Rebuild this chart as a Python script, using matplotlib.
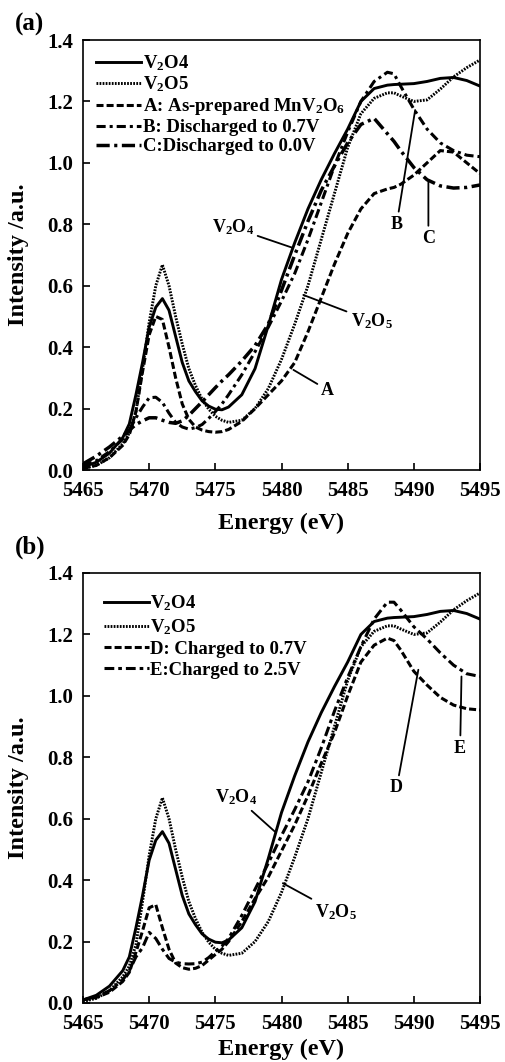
import matplotlib
matplotlib.use("Agg")
import matplotlib.pyplot as plt
from matplotlib.ticker import FormatStrFormatter, MultipleLocator

plt.rcParams["font.family"] = ["Liberation Serif", "DejaVu Serif"]
plt.rcParams["font.weight"] = "bold"
plt.rcParams["mathtext.fontset"] = "custom"
plt.rcParams["mathtext.rm"] = "Liberation Serif:bold"
plt.rcParams["mathtext.it"] = "Liberation Serif:bold"
plt.rcParams["mathtext.bf"] = "Liberation Serif:bold"
plt.rcParams["mathtext.default"] = "rm"

# shared energy grid (eV)
energy = [5465, 5466, 5467, 5468, 5468.5, 5469, 5469.5, 5470, 5470.5, 5471,
          5471.5, 5472, 5472.5, 5473, 5473.5, 5474, 5474.5, 5475, 5475.5, 5476,
          5477, 5478, 5479, 5480, 5481, 5482, 5483, 5484, 5485, 5486,
          5487, 5488, 5488.5, 5489, 5490, 5491, 5492, 5493, 5494, 5495]

v2o4 = [0.01, 0.025, 0.055, 0.105, 0.15, 0.245, 0.35, 0.465, 0.53, 0.558,
        0.52, 0.435, 0.35, 0.29, 0.255, 0.225, 0.208, 0.198, 0.196, 0.205,
        0.245, 0.33, 0.47, 0.62, 0.74, 0.85, 0.945, 1.03, 1.11, 1.2,
        1.242, 1.253, 1.255, 1.256, 1.258, 1.265, 1.275, 1.278, 1.268, 1.25]

v2o5 = [0.005, 0.015, 0.04, 0.085, 0.12, 0.19, 0.33, 0.48, 0.6, 0.668,
        0.6, 0.5, 0.41, 0.33, 0.275, 0.23, 0.198, 0.175, 0.162, 0.155,
        0.162, 0.2, 0.265, 0.36, 0.475, 0.6, 0.75, 0.9, 1.05, 1.16,
        1.21, 1.228, 1.228, 1.218, 1.2, 1.205, 1.24, 1.28, 1.31, 1.335]

# (a) as-prepared / discharged
curve_a = [0.005, 0.015, 0.04, 0.08, 0.115, 0.19, 0.32, 0.44, 0.5, 0.49,
           0.4, 0.3, 0.215, 0.165, 0.14, 0.13, 0.125, 0.123, 0.125, 0.132,
           0.158, 0.2, 0.245, 0.29, 0.35, 0.45, 0.56, 0.67, 0.77, 0.85,
           0.9, 0.915, 0.92, 0.93, 0.96, 1.0, 1.04, 1.035, 1.0, 0.965]

curve_b = [0.015, 0.03, 0.06, 0.1, 0.13, 0.17, 0.205, 0.235, 0.237, 0.22,
           0.185, 0.155, 0.14, 0.133, 0.138, 0.148, 0.168, 0.19, 0.215, 0.245,
           0.31, 0.385, 0.465, 0.55, 0.64, 0.75, 0.87, 0.99, 1.1, 1.2,
           1.265, 1.295, 1.29, 1.25, 1.175, 1.11, 1.065, 1.04, 1.025, 1.02]

curve_c = [0.02, 0.045, 0.075, 0.11, 0.13, 0.148, 0.16, 0.17, 0.17, 0.162,
           0.155, 0.152, 0.16, 0.178, 0.2, 0.222, 0.245, 0.268, 0.29, 0.31,
           0.355, 0.405, 0.475, 0.585, 0.7, 0.81, 0.91, 0.99, 1.065, 1.125,
           1.145, 1.095, 1.07, 1.04, 0.985, 0.945, 0.925, 0.918, 0.92, 0.928]

# (b) charged
curve_d = [0.01, 0.018, 0.035, 0.07, 0.1, 0.165, 0.235, 0.31, 0.32, 0.245,
           0.175, 0.13, 0.115, 0.11, 0.113, 0.122, 0.14, 0.158, 0.175, 0.2,
           0.265, 0.34, 0.41, 0.495, 0.58, 0.675, 0.78, 0.88, 1.0, 1.11,
           1.165, 1.188, 1.18, 1.15, 1.08, 1.035, 0.995, 0.97, 0.958, 0.954]

curve_e = [0.01, 0.02, 0.04, 0.075, 0.105, 0.15, 0.18, 0.23, 0.21, 0.175,
           0.145, 0.133, 0.128, 0.127, 0.128, 0.133, 0.148, 0.168, 0.185, 0.21,
           0.285, 0.37, 0.455, 0.545, 0.63, 0.72, 0.83, 0.95, 1.06, 1.16,
           1.25, 1.305, 1.305, 1.28, 1.225, 1.185, 1.14, 1.1, 1.072, 1.063]

ref_labels = ["V$_2$O4", "V$_2$O5"]
labels_a = ["A: As-prepared MnV$_2$O$_6$", "B: Discharged to 0.7V", "C:Discharged to 0.0V"]
labels_b = ["D: Charged to 0.7V", "E:Charged to 2.5V"]

solid = dict(color="k", lw=2.1, ls="-")
dotted = dict(color="k", lw=2.1, ls=(0, (0.6, 0.45)))
dashed = dict(color="k", lw=2.2, ls=(0, (2.3, 1.0)))
dashdot_b = dict(color="k", lw=2.2, ls=(0, (3.0, 1.3, 1.0, 1.3)))
dashdot_c = dict(color="k", lw=2.5, ls=(0, (3.8, 1.3, 0.9, 1.3)))
dashdot_e = dict(color="k", lw=2.2, ls=(0, (3.2, 1.3, 1.2, 1.3)))


def style_axes(ax, xlab_y):
    ax.set_xlim(5465, 5495)
    ax.set_ylim(0, 1.4)
    ax.xaxis.set_major_locator(MultipleLocator(5))
    ax.yaxis.set_major_locator(MultipleLocator(0.2))
    ax.yaxis.set_major_formatter(FormatStrFormatter("%.1f"))
    ax.tick_params(direction="in", length=5, width=1.2, labelsize=15)
    ax.tick_params(axis="x", pad=8)
    ax.tick_params(axis="y", pad=7)
    for s in ax.spines.values():
        s.set_linewidth(1.2)
    ax.set_xlabel("Energy (eV)", fontsize=17.5, fontweight="bold")
    ax.set_ylabel("Intensity /a.u.", fontsize=17.5, fontweight="bold")
    ax.xaxis.set_label_coords(0.5, xlab_y)
    ax.yaxis.set_label_coords(-0.135, 0.5)


def note(ax, text, xy, xytext):
    ax.annotate(text, xy=xy, xytext=xytext, fontsize=13, fontweight="bold",
                ha="center", va="center",
                arrowprops=dict(arrowstyle="-", color="k", lw=1.3,
                                shrinkA=1, shrinkB=0))


fig = plt.figure(figsize=(5.06, 10.62), dpi=100)
ax1 = fig.add_axes([83 / 506, 1 - 470 / 1062, 397 / 506, 430 / 1062])
ax2 = fig.add_axes([83 / 506, 1 - 1003 / 1062, 397 / 506, 430 / 1062])

# panel (a)
ax1.plot(energy, v2o4, label=ref_labels[0], **solid)
ax1.plot(energy, v2o5, label=ref_labels[1], **dotted)
ax1.plot(energy, curve_a, label=labels_a[0], **dashed)
ax1.plot(energy, curve_b, label=labels_a[1], **dashdot_b)
ax1.plot(energy, curve_c, label=labels_a[2], **dashdot_c)
style_axes(ax1, -0.1)
ax1.legend(loc="upper left", frameon=False, fontsize=13.5, handlelength=2.4,
           handletextpad=0.1, labelspacing=0.1, borderpad=0.5,
           borderaxespad=0.2)
note(ax1, "V$_2$O$_4$", (5480.87, 0.723), (5476.3, 0.79))
note(ax1, "V$_2$O$_5$", (5481.65, 0.57), (5486.8, 0.485))
note(ax1, "A", (5480.9, 0.326), (5483.5, 0.26))
note(ax1, "B", (5490.1, 1.172), (5488.7, 0.80))
note(ax1, "C", (5491.1, 0.939), (5491.1, 0.754))

# panel (b)
ax2.plot(energy, v2o4, label=ref_labels[0], **solid)
ax2.plot(energy, v2o5, label=ref_labels[1], **dotted)
ax2.plot(energy, curve_d, label=labels_b[0], **dashed)
ax2.plot(energy, curve_e, label=labels_b[1], **dashdot_e)
style_axes(ax2, -0.083)
ax2.legend(loc="upper left", frameon=False, fontsize=13.5, handlelength=2.4,
           handletextpad=0.1, labelspacing=0.2, borderpad=0.9,
           borderaxespad=0.2)
note(ax2, "V$_2$O$_4$", (5479.5, 0.558), (5476.6, 0.67))
note(ax2, "V$_2$O$_5$", (5480.1, 0.39), (5484.1, 0.296))
note(ax2, "D", (5490.34, 1.085), (5488.7, 0.70))
note(ax2, "E", (5493.6, 1.063), (5493.5, 0.83))

fig.text(0.059, 0.977, "(a)", fontsize=18, fontweight="bold", ha="center", va="center")
fig.text(0.059, 0.485, "(b)", fontsize=18, fontweight="bold", ha="center", va="center")

fig.savefig("out.png", dpi=100)
